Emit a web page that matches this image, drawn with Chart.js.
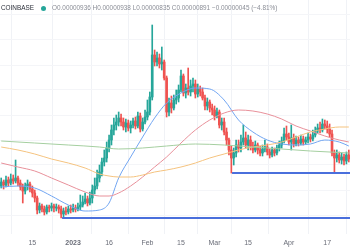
<!DOCTYPE html>
<html>
<head>
<meta charset="utf-8">
<script src="https://cdn.jsdelivr.net/npm/chart.js@4.4.0/dist/chart.umd.min.js"></script>
<style>
  html, body { margin: 0; padding: 0; background: #fff; }
  #wrap { position: relative; width: 350px; height: 250px; overflow: hidden; }
  #legend { position: absolute; left: 1px; top: 4px; font: 6.4px 'Liberation Sans', Arial, sans-serif; color: #8a8d96; white-space: nowrap; }
  #legend .sym { color: #2a2e39; }
  #legend .dot { display: inline-block; width: 5px; height: 5px; border-radius: 50%; background: #26a69a; margin: 0 6px 0 7px; vertical-align: -1px; }
</style>
</head>
<body>
<div id="wrap">
  <canvas id="chart" width="350" height="250"></canvas>
  <div id="legend"><span class="sym">COINBASE</span><span class="dot"></span>O0.00000936 H0.00000938 L0.00000835 C0.00000891 −0.00000045 (−4.81%)</div>
</div>
<script>
// Daily candles, day 1 = 1 Dec 2022, prices in 1e-8 USD
const OPEN = [
  916, 932, 920, 940, 928, 944, 936, 948, 928, 912,
  896, 916, 924, 904, 888, 868, 820, 836, 824, 812,
  832, 828, 836, 828, 832, 824, 804, 816, 812, 824,
  820, 828, 824, 832, 840, 852, 864, 848, 868, 900,
  916, 948, 972, 1012, 1028, 1068, 1100, 1140, 1160, 1172,
  1188, 1172, 1152, 1168, 1148, 1160, 1176, 1156, 1196, 1144,
  1172, 1192, 1212, 1272, 1440, 1412, 1428, 1404, 1412, 1348,
  1212, 1248, 1228, 1260, 1268, 1300, 1356, 1288, 1308, 1292,
  1316, 1324, 1284, 1304, 1292, 1268, 1236, 1252, 1228, 1220,
  1196, 1212, 1160, 1172, 1132, 1100, 1060, 1028, 1048, 1080,
  1068, 1092, 1108, 1080, 1100, 1076, 1060, 1080, 1060, 1048,
  1064, 1072, 1052, 1040, 1060, 1048, 1068, 1080, 1096, 1124,
  1112, 1092, 1108, 1084, 1100, 1088, 1104, 1092, 1100, 1112,
  1104, 1120, 1136, 1148, 1140, 1164, 1156, 1144, 1124, 1048,
  1028, 1040, 1020, 1032, 1016, 1040
];
const HIGH = [
  948, 940, 956, 952, 964, 960, 1020, 956, 940, 924,
  928, 940, 932, 916, 900, 876, 848, 844, 836, 840,
  840, 848, 844, 844, 840, 836, 828, 832, 836, 840,
  844, 840, 848, 880, 876, 888, 876, 892, 920, 948,
  980, 1000, 1028, 1060, 1092, 1120, 1160, 1188, 1200, 1212,
  1204, 1188, 1184, 1180, 1176, 1188, 1192, 1212, 1208, 1188,
  1220, 1260, 1292, 1560, 1460, 1452, 1444, 1472, 1420, 1356,
  1268, 1276, 1280, 1300, 1320, 1380, 1364, 1324, 1388, 1340,
  1348, 1340, 1324, 1316, 1308, 1280, 1268, 1260, 1244, 1236,
  1228, 1220, 1188, 1188, 1148, 1108, 1076, 1068, 1100, 1100,
  1120, 1160, 1132, 1120, 1116, 1092, 1096, 1088, 1076, 1080,
  1100, 1084, 1064, 1072, 1068, 1080, 1096, 1112, 1148, 1156,
  1128, 1160, 1124, 1116, 1112, 1120, 1116, 1112, 1128, 1124,
  1140, 1152, 1164, 1172, 1184, 1180, 1176, 1164, 1140, 1060,
  1060, 1052, 1048, 1044, 1052, 1060
];
const LOW = [
  908, 904, 912, 916, 920, 924, 928, 916, 900, 848,
  884, 900, 892, 872, 852, 804, 808, 812, 800, 804,
  812, 816, 812, 816, 808, 788, 792, 800, 804, 808,
  812, 812, 816, 820, 832, 844, 836, 840, 848, 884,
  904, 932, 956, 996, 1012, 1052, 1080, 1120, 1140, 1156,
  1156, 1140, 1132, 1136, 1128, 1148, 1144, 1148, 1132, 1136,
  1164, 1180, 1200, 1260, 1396, 1396, 1388, 1380, 1340, 1192,
  1196, 1208, 1220, 1244, 1252, 1292, 1276, 1268, 1280, 1276,
  1292, 1268, 1272, 1276, 1260, 1220, 1220, 1212, 1200, 1180,
  1188, 1148, 1140, 1120, 1080, 1040, 968, 1000, 1032, 1052,
  1052, 1080, 1068, 1060, 1060, 1048, 1052, 1044, 1036, 1036,
  1052, 1040, 1028, 1032, 1036, 1040, 1056, 1068, 1088, 1100,
  1080, 1060, 1072, 1076, 1076, 1080, 1080, 1084, 1088, 1092,
  1096, 1112, 1128, 1128, 1132, 1144, 1128, 1112, 1036, 972,
  1012, 1008, 1004, 1000, 1004, 1012
];
const CLOSE = [
  932, 920, 940, 928, 944, 936, 948, 928, 912, 896,
  916, 924, 904, 888, 868, 820, 836, 824, 812, 832,
  828, 836, 828, 832, 824, 804, 816, 812, 824, 820,
  828, 824, 832, 840, 852, 864, 848, 868, 900, 916,
  948, 972, 1012, 1028, 1068, 1100, 1140, 1160, 1172, 1188,
  1172, 1152, 1168, 1148, 1160, 1176, 1156, 1196, 1144, 1172,
  1192, 1212, 1272, 1440, 1412, 1428, 1404, 1412, 1348, 1212,
  1248, 1228, 1260, 1268, 1300, 1356, 1288, 1308, 1292, 1316,
  1324, 1284, 1304, 1292, 1268, 1236, 1252, 1228, 1220, 1196,
  1212, 1160, 1172, 1132, 1100, 1060, 1028, 1048, 1080, 1068,
  1092, 1108, 1080, 1100, 1076, 1060, 1080, 1060, 1048, 1064,
  1072, 1052, 1040, 1060, 1048, 1068, 1080, 1096, 1124, 1112,
  1092, 1108, 1084, 1100, 1088, 1104, 1092, 1100, 1112, 1104,
  1120, 1136, 1148, 1140, 1164, 1156, 1144, 1124, 1048, 1028,
  1040, 1020, 1032, 1016, 1040, 1024
];

// Moving averages at these days
const MA_DAYS = [1, 8, 15, 22, 29, 36, 42, 46, 50, 55, 60, 65, 70, 76, 82, 88, 94, 100, 106, 112, 118, 124, 130, 136, 142, 146];
const MA_BLUE = [912, 916, 908, 876, 840, 816, 820, 848, 948, 1032, 1112, 1188, 1248, 1288, 1308, 1304, 1260, 1180, 1132, 1100, 1084, 1080, 1084, 1100, 1092, 1076];
const MA_PINK = [1008, 992, 976, 948, 920, 892, 876, 876, 888, 916, 952, 992, 1032, 1088, 1140, 1180, 1208, 1220, 1216, 1204, 1184, 1156, 1136, 1116, 1100, 1092];
const MA_ORANGE = [1072, 1060, 1044, 1024, 1008, 988, 964, 956, 952, 952, 960, 972, 980, 992, 1008, 1028, 1044, 1060, 1072, 1080, 1092, 1112, 1132, 1144, 1152, 1152];
const MA_GREEN_DAYS = [1, 15, 29, 42, 50, 60, 70, 82, 94, 106, 118, 130, 146];
const MA_GREEN = [1096, 1088, 1080, 1072, 1064, 1068, 1076, 1084, 1080, 1072, 1064, 1056, 1048];

// Horizontal support levels: start day and price
const SUPPORT_START = [26.4, 97.3];
const SUPPORT_PRICE = [788, 968];

const TICK_DAYS = [14, 31, 46, 62, 76, 90, 104, 121, 137];
const TICK_LABELS = ['15', '2023', '16', 'Feb', '15', 'Mar', '15', 'Apr', '17'];

const FIRST_DAY = 0.5;
const LAST_DAY = 146.5;
const UP = '#26a69a';
const DOWN = '#ef5350';
const FONT = "'Liberation Sans', Arial, sans-serif";

const days = OPEN.map((_, i) => i + 1);
const colors = days.map((_, i) => CLOSE[i] >= OPEN[i] ? UP : DOWN);

function maLine(xs, ys, color, order) {
  return {
    type: 'line',
    data: xs.map((x, i) => ({ x, y: ys[i] })),
    borderColor: color,
    borderWidth: 1,
    pointRadius: 0,
    cubicInterpolationMode: 'monotone',
    order,
  };
}

const supports = SUPPORT_START.map((start, i) => ({
  type: 'line',
  data: [{ x: start, y: SUPPORT_PRICE[i] }, { x: LAST_DAY, y: SUPPORT_PRICE[i] }],
  borderColor: '#4a6fdc',
  borderWidth: 2,
  pointRadius: 0,
  order: 0,
}));

new Chart(document.getElementById('chart'), {
  type: 'bar',
  data: {
    datasets: [
      {
        // wicks
        data: days.map((d, i) => ({ x: d, y: [LOW[i], HIGH[i]] })),
        backgroundColor: colors,
        barThickness: 1,
        grouped: false,
        order: 3,
      },
      {
        // bodies
        data: days.map((d, i) => ({ x: d, y: [OPEN[i], CLOSE[i]] })),
        backgroundColor: colors,
        barThickness: 2,
        minBarLength: 1,
        grouped: false,
        order: 2,
      },
      maLine(MA_GREEN_DAYS, MA_GREEN, '#a5cfa0', 1),
      maLine(MA_DAYS, MA_ORANGE, '#f5c37f', 1),
      maLine(MA_DAYS, MA_PINK, '#e8909a', 1),
      maLine(MA_DAYS, MA_BLUE, '#72a6f2', 1),
      ...supports,
    ],
  },
  options: {
    responsive: false,
    animation: false,
    devicePixelRatio: 1,
    layout: { padding: 0 },
    plugins: { legend: { display: false }, tooltip: { enabled: false } },
    scales: {
      x: {
        type: 'linear',
        min: FIRST_DAY,
        max: LAST_DAY,
        offset: false,
        afterBuildTicks: s => { s.ticks = TICK_DAYS.map(v => ({ value: v })); },
        afterFit: s => { s.height = 16; },
        grid: { color: '#f0f2f6', drawTicks: false },
        border: { display: false },
        ticks: {
          autoSkip: false,
          maxRotation: 0,
          padding: 5,
          color: '#6a6d78',
          font: c => ({
            family: FONT,
            size: 7,
            weight: c.tick && TICK_LABELS[TICK_DAYS.indexOf(c.tick.value)] === '2023' ? 'bold' : 'normal',
          }),
          callback: v => TICK_LABELS[TICK_DAYS.indexOf(v)],
        },
      },
      y: {
        min: 724,
        max: 1660,
        afterBuildTicks: s => {
          const t = [];
          for (let p = 800; p <= 1600; p += 100) t.push({ value: p });
          s.ticks = t;
        },
        afterFit: s => { s.width = 0; },
        grid: { color: '#f4f5f8', drawTicks: false },
        border: { display: false },
        ticks: { display: false },
      },
    },
  },
});
</script>
</body>
</html>
